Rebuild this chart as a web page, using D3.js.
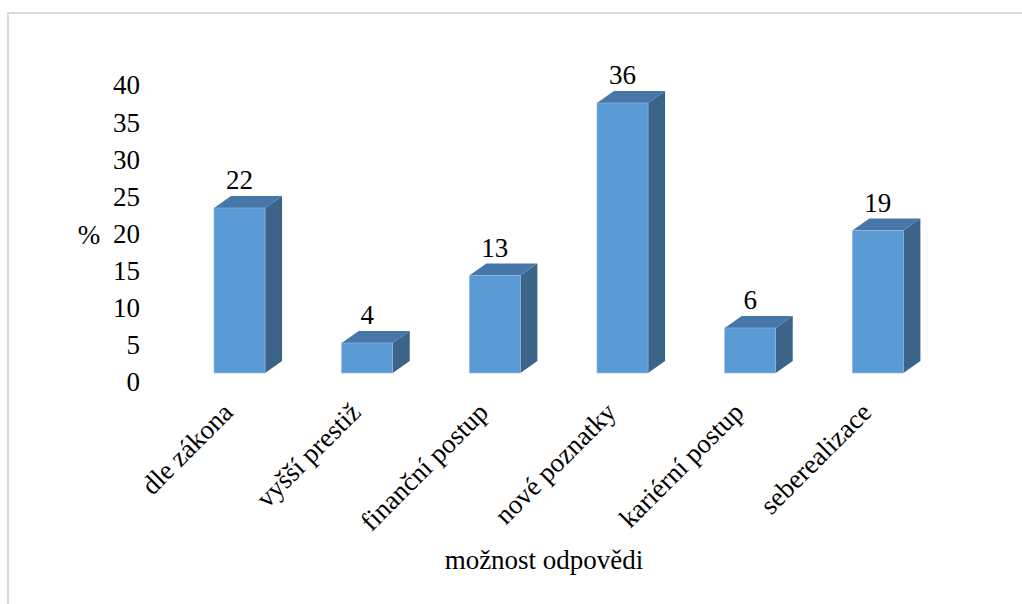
<!DOCTYPE html>
<html>
<head>
<meta charset="utf-8">
<script src="https://cdn.jsdelivr.net/npm/d3@7"></script>
<style>
  body { margin: 0; background: #fff; }
</style>
</head>
<body>
<div id="chart"></div>
<script>
const categories = ["dle zákona", "vyšší prestiž", "finanční postup", "nové poznatky", "kariérní postup", "seberealizace"];
const values = [22, 4, 13, 36, 6, 19];
const yTicks = [0, 5, 10, 15, 20, 25, 30, 35, 40];
const yTitle = "%";
const xTitle = "možnost odpovědi";

const width = 1022, height = 604;
const depth = { dx: 17, dy: -12 };
const serif = "Liberation Serif";
const fontSize = 27;

const svg = d3.select("#chart")
  .append("svg")
  .attr("width", width)
  .attr("height", height)
  .attr("font-family", serif)
  .attr("font-size", fontSize);

// Chart border
svg.append("rect")
  .attr("x", 8)
  .attr("y", 13)
  .attr("width", 1030)
  .attr("height", 620)
  .attr("fill", "none")
  .attr("stroke", "#d9d9d9")
  .attr("stroke-width", 2);

// Scales
const x = d3.scaleBand()
  .domain(categories)
  .range([175.7, 941.7])
  .paddingInner(0.6)
  .paddingOuter(0.3);

const y = d3.scaleLinear().domain([0, 40]).range([373, 73]);
// tick labels sit on the floor of the 3D box, a bit lower than the bars
const yLabel = d3.scaleLinear().domain([0, 40]).range([382, 85]);

// Y tick labels
svg.append("g")
  .selectAll("text")
  .data(yTicks)
  .enter()
  .append("text")
  .attr("x", 140)
  .attr("y", d => yLabel(d))
  .attr("dy", "0.35em")
  .attr("text-anchor", "end")
  .attr("font-family", serif)
  .text(d => d);

svg.append("text")
  .attr("x", 89)
  .attr("y", 235)
  .attr("dy", "0.35em")
  .attr("text-anchor", "middle")
  .attr("font-family", serif)
  .text(yTitle);

// Bars
const bars = svg.append("g")
  .selectAll("g")
  .data(values)
  .enter()
  .append("g");

bars.append("path") // side
  .attr("fill", "#3b6488")
  .attr("d", (d, i) => {
    const x1 = x(categories[i]) + x.bandwidth();
    const yt = y(d), yb = y(0);
    return `M${x1},${yt} L${x1 + depth.dx},${yt + depth.dy} L${x1 + depth.dx},${yb + depth.dy} L${x1},${yb} Z`;
  });

bars.append("path") // top
  .attr("fill", "#4677a8")
  .attr("d", (d, i) => {
    const x0 = x(categories[i]), x1 = x0 + x.bandwidth();
    const yt = y(d);
    return `M${x0},${yt} L${x0 + depth.dx},${yt + depth.dy} L${x1 + depth.dx},${yt + depth.dy} L${x1},${yt} Z`;
  });

bars.append("rect") // front
  .attr("x", (d, i) => x(categories[i]))
  .attr("y", d => y(d))
  .attr("width", x.bandwidth())
  .attr("height", d => y(0) - y(d))
  .attr("fill", "#5b9bd5")
  .attr("stroke", "#8fbbe3")
  .attr("stroke-width", 0.6);

// Value labels
bars.append("text")
  .attr("x", (d, i) => x(categories[i]) + x.bandwidth() / 2)
  .attr("y", d => y(d) + depth.dy - 7)
  .attr("text-anchor", "middle")
  .attr("font-family", serif)
  .text(d => d);

// Category labels
svg.append("g")
  .selectAll("text")
  .data(categories)
  .enter()
  .append("text")
  .attr("transform", d => `translate(${x(d) + x.bandwidth() / 2 - 5},${414}) rotate(-45)`)
  .attr("text-anchor", "end")
  .attr("font-family", serif)
  .text(d => d);

// Axis title
svg.append("text")
  .attr("x", 544)
  .attr("y", 560)
  .attr("dy", "0.35em")
  .attr("text-anchor", "middle")
  .attr("font-family", serif)
  .text(xTitle);
</script>
</body>
</html>
